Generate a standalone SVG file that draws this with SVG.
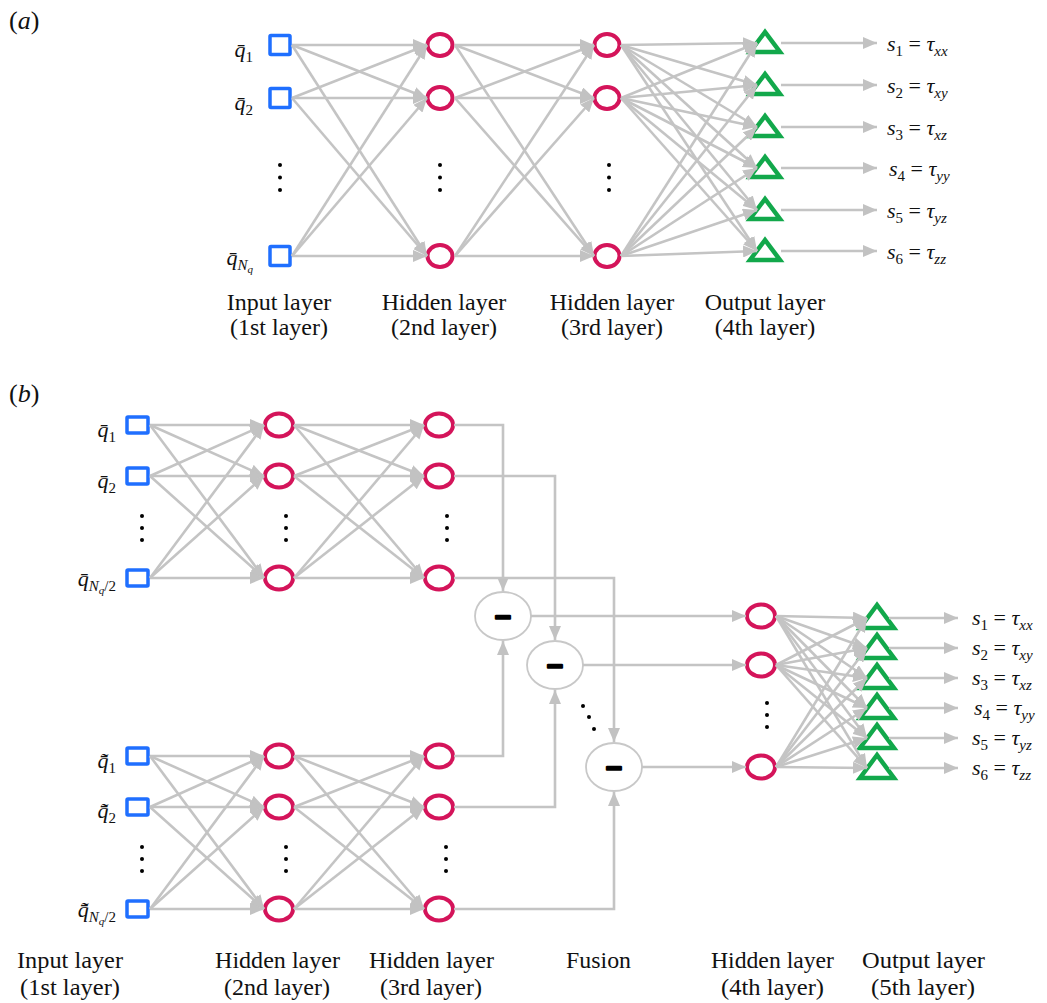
<svg xmlns="http://www.w3.org/2000/svg" width="1047" height="1003" viewBox="0 0 1047 1003">
<defs>
<marker id="ah" markerUnits="userSpaceOnUse" markerWidth="15" markerHeight="12" refX="14" refY="6" orient="auto"><path d="M0,0 L14,6 L0,12 z" fill="#c2c2c2"/></marker>
<style>
.e{stroke:#c4c4c4;stroke-width:2.6;fill:none;marker-end:url(#ah)}
.sq{fill:#fff;stroke:#1f6fff;stroke-width:3.5}
.ci{fill:#fff;stroke:#d4145a;stroke-width:4}
.tr{fill:#fff;stroke:#12a84b;stroke-width:4.5;stroke-linejoin:miter}
.fu{fill:#fff;stroke:#c8c8c8;stroke-width:1.8}
.dot{fill:#000}
.t{font-family:"Liberation Serif",serif;fill:#111}
.i{font-style:italic}
.lab{font-size:24px}
.blab{font-size:24px}
.sym{font-size:22px}
.sub{font-size:15px}
.ss{font-size:11px}
.minus{font-family:"DejaVu Sans",sans-serif;font-weight:bold;font-size:22px;fill:#000;stroke:#000;stroke-width:2.5;stroke-linejoin:round;text-anchor:middle}
</style>
</defs>
<rect width="1047" height="1003" fill="#fff"/>

<text class="t" x="9" y="29" font-size="26">(<tspan class="i">a</tspan>)</text>
<text class="t" x="9" y="402" font-size="26">(<tspan class="i">b</tspan>)</text>

<!-- ===== Panel (a) nodes ===== -->
<g id="a-in1"><rect class="sq" x="270" y="35.5" width="20" height="19" rx="1"/></g>
<g id="a-in2"><rect class="sq" x="270" y="88.5" width="20" height="19" rx="1"/></g>
<g id="a-in3"><rect class="sq" x="270" y="246.5" width="20" height="19" rx="1"/></g>
<g id="a-h2-1"><ellipse class="ci" cx="440" cy="45" rx="12.5" ry="11"/></g>
<g id="a-h2-2"><ellipse class="ci" cx="440" cy="98" rx="12.5" ry="11"/></g>
<g id="a-h2-3"><ellipse class="ci" cx="440" cy="256" rx="12.5" ry="11"/></g>
<g id="a-h3-1"><ellipse class="ci" cx="607" cy="45" rx="12.5" ry="11"/></g>
<g id="a-h3-2"><ellipse class="ci" cx="607" cy="98" rx="12.5" ry="11"/></g>
<g id="a-h3-3"><ellipse class="ci" cx="607" cy="256" rx="12.5" ry="11"/></g>
<g id="a-o1"><path class="tr" d="M765,32 L750,52 L780,52 z"/></g>
<g id="a-o2"><path class="tr" d="M765,74 L750,94 L780,94 z"/></g>
<g id="a-o3"><path class="tr" d="M765,116 L750,136 L780,136 z"/></g>
<g id="a-o4"><path class="tr" d="M765,157 L750,177 L780,177 z"/></g>
<g id="a-o5"><path class="tr" d="M765,199 L750,219 L780,219 z"/></g>
<g id="a-o6"><path class="tr" d="M765,240 L750,260 L780,260 z"/></g>
<g id="a-dots">
<circle class="dot" cx="280" cy="165" r="2"/><circle class="dot" cx="280" cy="177.5" r="2"/><circle class="dot" cx="280" cy="190" r="2"/>
<circle class="dot" cx="440" cy="165" r="2"/><circle class="dot" cx="440" cy="177.5" r="2"/><circle class="dot" cx="440" cy="190" r="2"/>
<circle class="dot" cx="609" cy="165" r="2"/><circle class="dot" cx="609" cy="177.5" r="2"/><circle class="dot" cx="609" cy="190" r="2"/>
</g>

<!-- ===== Panel (b) nodes ===== -->
<g id="b-in1"><rect class="sq" x="127" y="417" width="21" height="16" rx="1"/></g>
<g id="b-in2"><rect class="sq" x="127" y="468" width="21" height="16" rx="1"/></g>
<g id="b-in3"><rect class="sq" x="127" y="570" width="21" height="16" rx="1"/></g>
<g id="b-in4"><rect class="sq" x="127" y="748" width="21" height="16" rx="1"/></g>
<g id="b-in5"><rect class="sq" x="127" y="799" width="21" height="16" rx="1"/></g>
<g id="b-in6"><rect class="sq" x="127" y="901" width="21" height="16" rx="1"/></g>
<g id="b-h2-1"><ellipse class="ci" cx="279" cy="425" rx="14" ry="11.5"/></g>
<g id="b-h2-2"><ellipse class="ci" cx="279" cy="476" rx="14" ry="11.5"/></g>
<g id="b-h2-3"><ellipse class="ci" cx="279" cy="578" rx="14" ry="11.5"/></g>
<g id="b-h2-4"><ellipse class="ci" cx="279" cy="756" rx="14" ry="11.5"/></g>
<g id="b-h2-5"><ellipse class="ci" cx="279" cy="807" rx="14" ry="11.5"/></g>
<g id="b-h2-6"><ellipse class="ci" cx="279" cy="909" rx="14" ry="11.5"/></g>
<g id="b-h3-1"><ellipse class="ci" cx="439" cy="425" rx="14" ry="11.5"/></g>
<g id="b-h3-2"><ellipse class="ci" cx="439" cy="476" rx="14" ry="11.5"/></g>
<g id="b-h3-3"><ellipse class="ci" cx="439" cy="578" rx="14" ry="11.5"/></g>
<g id="b-h3-4"><ellipse class="ci" cx="439" cy="756" rx="14" ry="11.5"/></g>
<g id="b-h3-5"><ellipse class="ci" cx="439" cy="807" rx="14" ry="11.5"/></g>
<g id="b-h3-6"><ellipse class="ci" cx="439" cy="909" rx="14" ry="11.5"/></g>
<g id="b-f1"><ellipse class="fu" cx="503" cy="616" rx="28" ry="24"/><text class="minus" x="503" y="624">−</text></g>
<g id="b-f2"><ellipse class="fu" cx="555" cy="665" rx="28" ry="24"/><text class="minus" x="555" y="673">−</text></g>
<g id="b-f3"><ellipse class="fu" cx="614" cy="767" rx="28" ry="24"/><text class="minus" x="614" y="775">−</text></g>
<g id="b-h4-1"><ellipse class="ci" cx="761" cy="616" rx="14" ry="11.5"/></g>
<g id="b-h4-2"><ellipse class="ci" cx="761" cy="665" rx="14" ry="11.5"/></g>
<g id="b-h4-3"><ellipse class="ci" cx="761" cy="767" rx="14" ry="11.5"/></g>
<g id="b-o1"><path class="tr" d="M877,605 L860,628 L894,628 z"/></g>
<g id="b-o2"><path class="tr" d="M877,635 L860,658 L894,658 z"/></g>
<g id="b-o3"><path class="tr" d="M877,665 L860,688 L894,688 z"/></g>
<g id="b-o4"><path class="tr" d="M877,695 L860,718 L894,718 z"/></g>
<g id="b-o5"><path class="tr" d="M877,725 L860,748 L894,748 z"/></g>
<g id="b-o6"><path class="tr" d="M877,755 L860,778 L894,778 z"/></g>
<g id="b-dots">
<circle class="dot" cx="142" cy="516" r="2"/><circle class="dot" cx="142" cy="528" r="2"/><circle class="dot" cx="142" cy="540" r="2"/>
<circle class="dot" cx="286" cy="516" r="2"/><circle class="dot" cx="286" cy="528" r="2"/><circle class="dot" cx="286" cy="540" r="2"/>
<circle class="dot" cx="447" cy="516" r="2"/><circle class="dot" cx="447" cy="528" r="2"/><circle class="dot" cx="447" cy="540" r="2"/>
<circle class="dot" cx="142" cy="847" r="2"/><circle class="dot" cx="142" cy="859" r="2"/><circle class="dot" cx="142" cy="871" r="2"/>
<circle class="dot" cx="286" cy="847" r="2"/><circle class="dot" cx="286" cy="859" r="2"/><circle class="dot" cx="286" cy="871" r="2"/>
<circle class="dot" cx="446" cy="847" r="2"/><circle class="dot" cx="446" cy="859" r="2"/><circle class="dot" cx="446" cy="871" r="2"/>
<circle class="dot" cx="583" cy="706" r="2"/><circle class="dot" cx="589" cy="717" r="2"/><circle class="dot" cx="594" cy="729" r="2"/>
<circle class="dot" cx="767" cy="703" r="2"/><circle class="dot" cx="767" cy="715" r="2"/><circle class="dot" cx="767" cy="727" r="2"/>
</g>

<!-- ===== Connectors ===== -->
<g id="connectors">
<line class="e" x1="292" y1="45" x2="427" y2="45"/><line class="e" x1="292" y1="45" x2="427" y2="98"/><line class="e" x1="292" y1="45" x2="427" y2="256"/>
<line class="e" x1="292" y1="98" x2="427" y2="45"/><line class="e" x1="292" y1="98" x2="427" y2="98"/><line class="e" x1="292" y1="98" x2="427" y2="256"/>
<line class="e" x1="292" y1="256" x2="427" y2="45"/><line class="e" x1="292" y1="256" x2="427" y2="98"/><line class="e" x1="292" y1="256" x2="427" y2="256"/>
<line class="e" x1="455" y1="45" x2="594" y2="45"/><line class="e" x1="455" y1="45" x2="594" y2="98"/><line class="e" x1="455" y1="45" x2="594" y2="256"/>
<line class="e" x1="455" y1="98" x2="594" y2="45"/><line class="e" x1="455" y1="98" x2="594" y2="98"/><line class="e" x1="455" y1="98" x2="594" y2="256"/>
<line class="e" x1="455" y1="256" x2="594" y2="45"/><line class="e" x1="455" y1="256" x2="594" y2="98"/><line class="e" x1="455" y1="256" x2="594" y2="256"/>
<line class="e" x1="621" y1="45" x2="757" y2="43"/><line class="e" x1="621" y1="45" x2="757" y2="85"/><line class="e" x1="621" y1="45" x2="757" y2="127"/><line class="e" x1="621" y1="45" x2="757" y2="168"/><line class="e" x1="621" y1="45" x2="757" y2="210"/><line class="e" x1="621" y1="45" x2="757" y2="251"/>
<line class="e" x1="621" y1="98" x2="757" y2="43"/><line class="e" x1="621" y1="98" x2="757" y2="85"/><line class="e" x1="621" y1="98" x2="757" y2="127"/><line class="e" x1="621" y1="98" x2="757" y2="168"/><line class="e" x1="621" y1="98" x2="757" y2="210"/><line class="e" x1="621" y1="98" x2="757" y2="251"/>
<line class="e" x1="621" y1="256" x2="757" y2="43"/><line class="e" x1="621" y1="256" x2="757" y2="85"/><line class="e" x1="621" y1="256" x2="757" y2="127"/><line class="e" x1="621" y1="256" x2="757" y2="168"/><line class="e" x1="621" y1="256" x2="757" y2="210"/><line class="e" x1="621" y1="256" x2="757" y2="251"/>
<line class="e" x1="781" y1="43" x2="877" y2="43"/><line class="e" x1="781" y1="85" x2="877" y2="85"/><line class="e" x1="781" y1="127" x2="877" y2="127"/><line class="e" x1="781" y1="168" x2="877" y2="168"/><line class="e" x1="781" y1="210" x2="877" y2="210"/><line class="e" x1="781" y1="251" x2="877" y2="251"/>

<line class="e" x1="150" y1="425" x2="264" y2="425"/><line class="e" x1="150" y1="425" x2="264" y2="476"/><line class="e" x1="150" y1="425" x2="264" y2="578"/>
<line class="e" x1="150" y1="476" x2="264" y2="425"/><line class="e" x1="150" y1="476" x2="264" y2="476"/><line class="e" x1="150" y1="476" x2="264" y2="578"/>
<line class="e" x1="150" y1="578" x2="264" y2="425"/><line class="e" x1="150" y1="578" x2="264" y2="476"/><line class="e" x1="150" y1="578" x2="264" y2="578"/>
<line class="e" x1="294" y1="425" x2="424" y2="425"/><line class="e" x1="294" y1="425" x2="424" y2="476"/><line class="e" x1="294" y1="425" x2="424" y2="578"/>
<line class="e" x1="294" y1="476" x2="424" y2="425"/><line class="e" x1="294" y1="476" x2="424" y2="476"/><line class="e" x1="294" y1="476" x2="424" y2="578"/>
<line class="e" x1="294" y1="578" x2="424" y2="425"/><line class="e" x1="294" y1="578" x2="424" y2="476"/><line class="e" x1="294" y1="578" x2="424" y2="578"/>
<line class="e" x1="150" y1="756" x2="264" y2="756"/><line class="e" x1="150" y1="756" x2="264" y2="807"/><line class="e" x1="150" y1="756" x2="264" y2="909"/>
<line class="e" x1="150" y1="807" x2="264" y2="756"/><line class="e" x1="150" y1="807" x2="264" y2="807"/><line class="e" x1="150" y1="807" x2="264" y2="909"/>
<line class="e" x1="150" y1="909" x2="264" y2="756"/><line class="e" x1="150" y1="909" x2="264" y2="807"/><line class="e" x1="150" y1="909" x2="264" y2="909"/>
<line class="e" x1="294" y1="756" x2="424" y2="756"/><line class="e" x1="294" y1="756" x2="424" y2="807"/><line class="e" x1="294" y1="756" x2="424" y2="909"/>
<line class="e" x1="294" y1="807" x2="424" y2="756"/><line class="e" x1="294" y1="807" x2="424" y2="807"/><line class="e" x1="294" y1="807" x2="424" y2="909"/>
<line class="e" x1="294" y1="909" x2="424" y2="756"/><line class="e" x1="294" y1="909" x2="424" y2="807"/><line class="e" x1="294" y1="909" x2="424" y2="909"/>

<path class="e" d="M454,425 H503 V591"/>
<path class="e" d="M454,476 H555 V640"/>
<path class="e" d="M454,578 H614 V742"/>
<path class="e" d="M454,756 H503 V641"/>
<path class="e" d="M454,807 H555 V690"/>
<path class="e" d="M454,909 H614 V792"/>
<line class="e" x1="531" y1="616" x2="746" y2="616"/>
<line class="e" x1="583" y1="665" x2="746" y2="665"/>
<line class="e" x1="642" y1="767" x2="746" y2="767"/>

<line class="e" x1="776" y1="616" x2="867" y2="618"/><line class="e" x1="776" y1="616" x2="867" y2="648"/><line class="e" x1="776" y1="616" x2="867" y2="678"/><line class="e" x1="776" y1="616" x2="867" y2="708"/><line class="e" x1="776" y1="616" x2="867" y2="738"/><line class="e" x1="776" y1="616" x2="867" y2="768"/>
<line class="e" x1="776" y1="665" x2="867" y2="618"/><line class="e" x1="776" y1="665" x2="867" y2="648"/><line class="e" x1="776" y1="665" x2="867" y2="678"/><line class="e" x1="776" y1="665" x2="867" y2="708"/><line class="e" x1="776" y1="665" x2="867" y2="738"/><line class="e" x1="776" y1="665" x2="867" y2="768"/>
<line class="e" x1="776" y1="767" x2="867" y2="618"/><line class="e" x1="776" y1="767" x2="867" y2="648"/><line class="e" x1="776" y1="767" x2="867" y2="678"/><line class="e" x1="776" y1="767" x2="867" y2="708"/><line class="e" x1="776" y1="767" x2="867" y2="738"/><line class="e" x1="776" y1="767" x2="867" y2="768"/>
<line class="e" x1="889" y1="618" x2="958" y2="618"/><line class="e" x1="889" y1="648" x2="958" y2="648"/><line class="e" x1="889" y1="678" x2="958" y2="678"/><line class="e" x1="889" y1="708" x2="958" y2="708"/><line class="e" x1="889" y1="738" x2="958" y2="738"/><line class="e" x1="889" y1="768" x2="958" y2="768"/>
</g>

<!-- ===== Labels (a) ===== -->
<g id="a-labels">
<text class="t sym" x="253" y="57" text-anchor="end"><tspan class="i">q&#x304;</tspan><tspan class="sub" dy="5">1</tspan></text>
<text class="t sym" x="253" y="110" text-anchor="end"><tspan class="i">q&#x304;</tspan><tspan class="sub" dy="5">2</tspan></text>
<text class="t sym" x="253" y="265" text-anchor="end"><tspan class="i">q&#x304;</tspan><tspan class="sub i" dy="5">N</tspan><tspan class="ss i" dy="3">q</tspan></text>
<text class="t sym" x="887" y="51"><tspan class="i">s</tspan><tspan class="sub" dy="5">1</tspan><tspan dy="-5"> = </tspan><tspan class="i">τ</tspan><tspan class="sub i" dy="5">xx</tspan></text>
<text class="t sym" x="887" y="93"><tspan class="i">s</tspan><tspan class="sub" dy="5">2</tspan><tspan dy="-5"> = </tspan><tspan class="i">τ</tspan><tspan class="sub i" dy="5">xy</tspan></text>
<text class="t sym" x="887" y="135"><tspan class="i">s</tspan><tspan class="sub" dy="5">3</tspan><tspan dy="-5"> = </tspan><tspan class="i">τ</tspan><tspan class="sub i" dy="5">xz</tspan></text>
<text class="t sym" x="889" y="176"><tspan class="i">s</tspan><tspan class="sub" dy="5">4</tspan><tspan dy="-5"> = </tspan><tspan class="i">τ</tspan><tspan class="sub i" dy="5">yy</tspan></text>
<text class="t sym" x="887" y="218"><tspan class="i">s</tspan><tspan class="sub" dy="5">5</tspan><tspan dy="-5"> = </tspan><tspan class="i">τ</tspan><tspan class="sub i" dy="5">yz</tspan></text>
<text class="t sym" x="887" y="259"><tspan class="i">s</tspan><tspan class="sub" dy="5">6</tspan><tspan dy="-5"> = </tspan><tspan class="i">τ</tspan><tspan class="sub i" dy="5">zz</tspan></text>
<text class="t lab" x="279" y="310" text-anchor="middle">Input layer</text>
<text class="t lab" x="279" y="335" text-anchor="middle">(1st layer)</text>
<text class="t lab" x="444" y="310" text-anchor="middle">Hidden layer</text>
<text class="t lab" x="444" y="335" text-anchor="middle">(2nd layer)</text>
<text class="t lab" x="612" y="310" text-anchor="middle">Hidden layer</text>
<text class="t lab" x="612" y="335" text-anchor="middle">(3rd layer)</text>
<text class="t lab" x="765" y="310" text-anchor="middle">Output layer</text>
<text class="t lab" x="765" y="335" text-anchor="middle">(4th layer)</text>
</g>

<!-- ===== Labels (b) ===== -->
<g id="b-labels">
<text class="t sym" x="116" y="437" text-anchor="end"><tspan class="i">q&#x304;</tspan><tspan class="sub" dy="5">1</tspan></text>
<text class="t sym" x="116" y="488" text-anchor="end"><tspan class="i">q&#x304;</tspan><tspan class="sub" dy="5">2</tspan></text>
<text class="t sym" x="116" y="586" text-anchor="end"><tspan class="i">q&#x304;</tspan><tspan class="sub i" dy="5">N</tspan><tspan class="ss i" dy="3">q</tspan><tspan class="sub" dy="-3">/2</tspan></text>
<text class="t sym" x="116" y="768" text-anchor="end"><tspan class="i">q&#x304;&#x303;</tspan><tspan class="sub" dy="5">1</tspan></text>
<text class="t sym" x="116" y="818" text-anchor="end"><tspan class="i">q&#x304;&#x303;</tspan><tspan class="sub" dy="5">2</tspan></text>
<text class="t sym" x="116" y="917" text-anchor="end"><tspan class="i">q&#x304;&#x303;</tspan><tspan class="sub i" dy="5">N</tspan><tspan class="ss i" dy="3">q</tspan><tspan class="sub" dy="-3">/2</tspan></text>
<text class="t sym" x="972" y="625"><tspan class="i">s</tspan><tspan class="sub" dy="5">1</tspan><tspan dy="-5"> = </tspan><tspan class="i">τ</tspan><tspan class="sub i" dy="5">xx</tspan></text>
<text class="t sym" x="972" y="655"><tspan class="i">s</tspan><tspan class="sub" dy="5">2</tspan><tspan dy="-5"> = </tspan><tspan class="i">τ</tspan><tspan class="sub i" dy="5">xy</tspan></text>
<text class="t sym" x="972" y="685"><tspan class="i">s</tspan><tspan class="sub" dy="5">3</tspan><tspan dy="-5"> = </tspan><tspan class="i">τ</tspan><tspan class="sub i" dy="5">xz</tspan></text>
<text class="t sym" x="974" y="715"><tspan class="i">s</tspan><tspan class="sub" dy="5">4</tspan><tspan dy="-5"> = </tspan><tspan class="i">τ</tspan><tspan class="sub i" dy="5">yy</tspan></text>
<text class="t sym" x="972" y="745"><tspan class="i">s</tspan><tspan class="sub" dy="5">5</tspan><tspan dy="-5"> = </tspan><tspan class="i">τ</tspan><tspan class="sub i" dy="5">yz</tspan></text>
<text class="t sym" x="972" y="775"><tspan class="i">s</tspan><tspan class="sub" dy="5">6</tspan><tspan dy="-5"> = </tspan><tspan class="i">τ</tspan><tspan class="sub i" dy="5">zz</tspan></text>
<text class="t blab" x="17" y="968" textLength="106" lengthAdjust="spacingAndGlyphs">Input layer</text>
<text class="t blab" x="20" y="995" textLength="100" lengthAdjust="spacingAndGlyphs">(1st layer)</text>
<text class="t blab" x="215" y="968" textLength="125" lengthAdjust="spacingAndGlyphs">Hidden layer</text>
<text class="t blab" x="224" y="995" textLength="106" lengthAdjust="spacingAndGlyphs">(2nd layer)</text>
<text class="t blab" x="369" y="968" textLength="125" lengthAdjust="spacingAndGlyphs">Hidden layer</text>
<text class="t blab" x="380" y="995" textLength="102" lengthAdjust="spacingAndGlyphs">(3rd layer)</text>
<text class="t blab" x="566" y="968" textLength="65" lengthAdjust="spacingAndGlyphs">Fusion</text>
<text class="t blab" x="711" y="968" textLength="123" lengthAdjust="spacingAndGlyphs">Hidden layer</text>
<text class="t blab" x="721" y="995" textLength="103" lengthAdjust="spacingAndGlyphs">(4th layer)</text>
<text class="t blab" x="862" y="968" textLength="123" lengthAdjust="spacingAndGlyphs">Output layer</text>
<text class="t blab" x="871" y="995" textLength="104" lengthAdjust="spacingAndGlyphs">(5th layer)</text>
</g>
</svg>
